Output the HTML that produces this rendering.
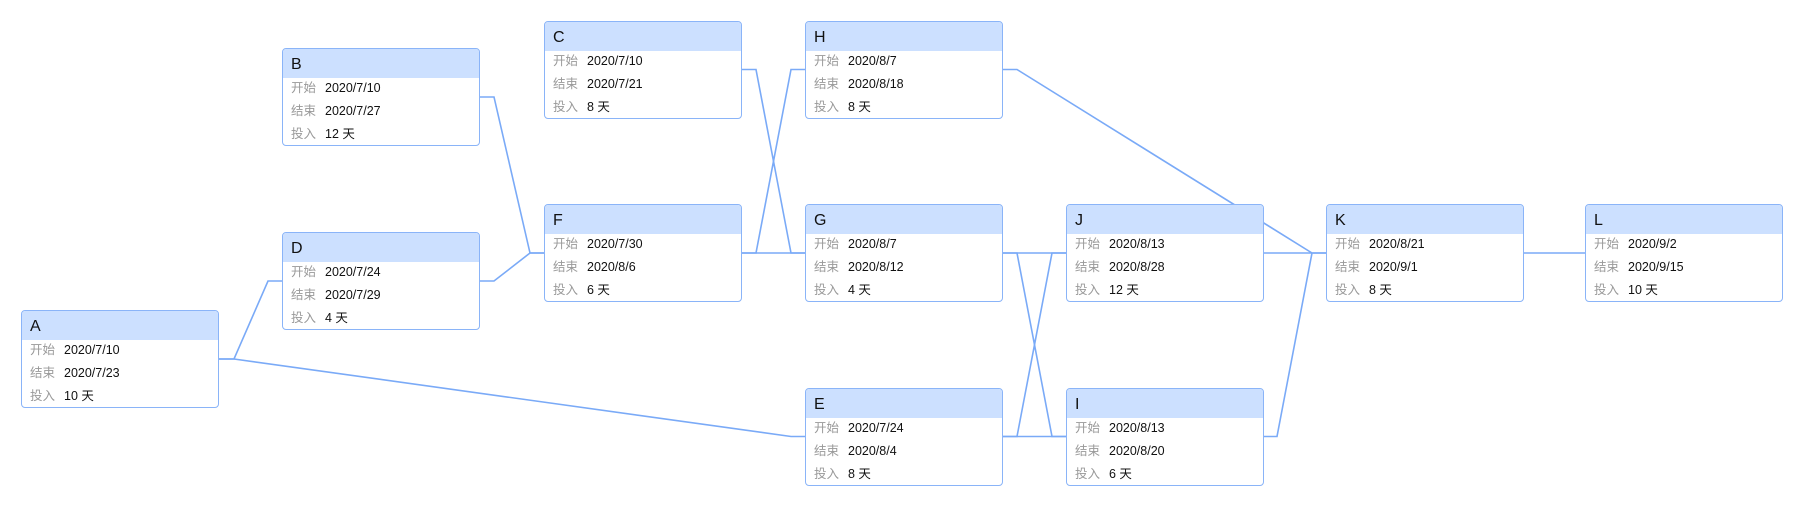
<!DOCTYPE html>
<html><head><meta charset="utf-8"><style>
body{margin:0;width:1808px;height:507px;background:#fff;position:relative;overflow:hidden;font-family:"Liberation Sans","Noto Sans CJK SC",sans-serif;}
svg{position:absolute;left:0;top:0}
.b{position:absolute;border:1px solid #8ab4f8;border-radius:4px;background:#fff;overflow:hidden;box-sizing:border-box;width:198px;height:98px}
.h{height:29px;background:#cce0ff;font-size:16px;color:#111;padding-left:8px;line-height:31px}
.r{position:absolute;left:8px;font-size:12.5px;color:#111;white-space:nowrap;line-height:18px}
.r span{color:#999;display:inline-block;width:34px}
</style></head><body>
<svg width="1808" height="507" fill="none" stroke="#7aaaf7" stroke-width="1.6">
<polyline points="219,359 234,359 268,281 282,281"/>
<polyline points="219,359 234,359 791,436.5 805,436.5"/>
<polyline points="480,97 494,97 530,253 544,253"/>
<polyline points="480,281 494,281 530,253 544,253"/>
<polyline points="741,69.5 756,69.5 791,253 805,253"/>
<polyline points="741,253 756,253 791,69.5 805,69.5"/>
<polyline points="741,253 805,253"/>
<polyline points="1002,69.5 1017,69.5 1312,253 1326,253"/>
<polyline points="1003,253 1066,253"/>
<polyline points="1003,436.5 1066,436.5"/>
<polyline points="1003,253 1017,253 1052,436.5 1066,436.5"/>
<polyline points="1003,436.5 1017,436.5 1052,253 1066,253"/>
<polyline points="1263,253 1312,253"/>
<polyline points="1263,436.5 1277,436.5 1312,253 1326,253"/>
<polyline points="1523,253 1585,253"/>
</svg>

<div class="b" style="left:21px;top:309.5px"><div class="h">A</div><div class="r" style="top:30px"><span>开始</span>2020/7/10</div><div class="r" style="top:53px"><span>结束</span>2020/7/23</div><div class="r" style="top:76px"><span>投入</span>10 天</div></div>
<div class="b" style="left:282px;top:47.5px"><div class="h">B</div><div class="r" style="top:30px"><span>开始</span>2020/7/10</div><div class="r" style="top:53px"><span>结束</span>2020/7/27</div><div class="r" style="top:76px"><span>投入</span>12 天</div></div>
<div class="b" style="left:282px;top:231.5px"><div class="h">D</div><div class="r" style="top:30px"><span>开始</span>2020/7/24</div><div class="r" style="top:53px"><span>结束</span>2020/7/29</div><div class="r" style="top:76px"><span>投入</span>4 天</div></div>
<div class="b" style="left:544px;top:20.5px"><div class="h">C</div><div class="r" style="top:30px"><span>开始</span>2020/7/10</div><div class="r" style="top:53px"><span>结束</span>2020/7/21</div><div class="r" style="top:76px"><span>投入</span>8 天</div></div>
<div class="b" style="left:544px;top:203.5px"><div class="h">F</div><div class="r" style="top:30px"><span>开始</span>2020/7/30</div><div class="r" style="top:53px"><span>结束</span>2020/8/6</div><div class="r" style="top:76px"><span>投入</span>6 天</div></div>
<div class="b" style="left:805px;top:20.5px"><div class="h">H</div><div class="r" style="top:30px"><span>开始</span>2020/8/7</div><div class="r" style="top:53px"><span>结束</span>2020/8/18</div><div class="r" style="top:76px"><span>投入</span>8 天</div></div>
<div class="b" style="left:805px;top:203.5px"><div class="h">G</div><div class="r" style="top:30px"><span>开始</span>2020/8/7</div><div class="r" style="top:53px"><span>结束</span>2020/8/12</div><div class="r" style="top:76px"><span>投入</span>4 天</div></div>
<div class="b" style="left:805px;top:387.5px"><div class="h">E</div><div class="r" style="top:30px"><span>开始</span>2020/7/24</div><div class="r" style="top:53px"><span>结束</span>2020/8/4</div><div class="r" style="top:76px"><span>投入</span>8 天</div></div>
<div class="b" style="left:1066px;top:203.5px"><div class="h">J</div><div class="r" style="top:30px"><span>开始</span>2020/8/13</div><div class="r" style="top:53px"><span>结束</span>2020/8/28</div><div class="r" style="top:76px"><span>投入</span>12 天</div></div>
<div class="b" style="left:1066px;top:387.5px"><div class="h">I</div><div class="r" style="top:30px"><span>开始</span>2020/8/13</div><div class="r" style="top:53px"><span>结束</span>2020/8/20</div><div class="r" style="top:76px"><span>投入</span>6 天</div></div>
<div class="b" style="left:1326px;top:203.5px"><div class="h">K</div><div class="r" style="top:30px"><span>开始</span>2020/8/21</div><div class="r" style="top:53px"><span>结束</span>2020/9/1</div><div class="r" style="top:76px"><span>投入</span>8 天</div></div>
<div class="b" style="left:1585px;top:203.5px"><div class="h">L</div><div class="r" style="top:30px"><span>开始</span>2020/9/2</div><div class="r" style="top:53px"><span>结束</span>2020/9/15</div><div class="r" style="top:76px"><span>投入</span>10 天</div></div>
</body></html>
